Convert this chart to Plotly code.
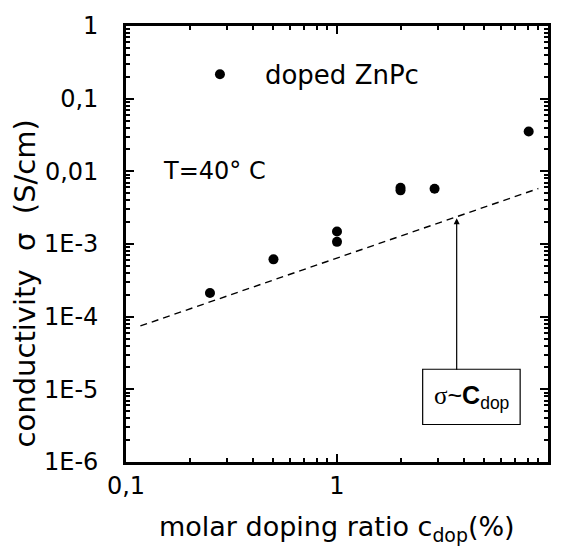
import plotly.graph_objects as go

# data
c_dop = [0.25, 0.5, 1.0, 1.0, 2.0, 2.0, 2.9, 8.1]
sigma = [2.12e-4, 6.15e-4, 1.49e-3, 1.07e-3, 5.95e-3, 5.47e-3, 5.77e-3, 3.53e-2]
fit_x = [0.117, 9.0]
fit_y = [7.45e-5, 5.8e-3]

y_tickvals = [1e-6, 1e-5, 1e-4, 1e-3, 1e-2, 1e-1, 1]
y_ticktext = ["1E-6", "1E-5", "1E-4", "1E-3", "0,01", "0,1", "1"]
x_tickvals = [0.1, 1, 10]
x_ticktext = ["0,1", "1", "10"]
minor_digits = [2, 3, 4, 5, 6, 7, 8, 9]
x_decades = [0.1, 1]
y_decades = [1e-6, 1e-5, 1e-4, 1e-3, 1e-2, 1e-1]

x_minor = [d * m for d in x_decades for m in minor_digits]
y_minor = [d * m for d in y_decades for m in minor_digits]
LABEL_PAD = "\u00a0\u00a0\u2009"

FONT = "DejaVu Sans"

fig = go.Figure()
fig.add_trace(go.Scatter(x=fit_x, y=fit_y, mode="lines",
                         line=dict(color="black", width=1.4, dash="7px,5px"),
                         showlegend=False, hoverinfo="skip"))
fig.add_trace(go.Scatter(x=c_dop, y=sigma, mode="markers", name="doped ZnPc",
                         marker=dict(color="black", size=10)))

axis_common = dict(
    showline=True, linecolor="black", linewidth=2.5, mirror="allticks",
    ticks="inside", ticklen=8, tickwidth=2, tickcolor="black",
    showgrid=False, zeroline=False,
    tickfont=dict(family=FONT, size=24, color="black"),
)

fig.update_xaxes(type="log", range=[-1, 1], tickmode="array",
                 tickvals=x_tickvals, ticktext=x_ticktext,
                 minor=dict(ticks="inside", ticklen=4, tickwidth=1.5,
                            tickcolor="black", tickmode="array",
                            tickvals=x_minor, showgrid=False),
                 **axis_common)
fig.update_yaxes(type="log", range=[-6, 0], tickmode="array",
                 tickvals=y_tickvals,
                 ticktext=[t + LABEL_PAD for t in y_ticktext],
                 minor=dict(ticks="inside", ticklen=4, tickwidth=1.5,
                            tickcolor="black", tickmode="array",
                            tickvals=y_minor, showgrid=False),
                 **axis_common)

annotations = [
    dict(text="conductivity  σ  (S/cm)", xref="paper", yref="paper",
         x=-0.239, y=0.41, textangle=-90, showarrow=False,
         font=dict(family=FONT, size=29, color="black"),
         xanchor="center", yanchor="middle"),
    dict(text="molar doping ratio c<sub>dop</sub>(%)", xref="paper", yref="paper",
         x=0.501, y=-0.108, showarrow=False,
         font=dict(family=FONT, size=27, color="black"),
         xanchor="center", yanchor="top"),
    dict(text="T=40° C", xref="paper", yref="paper", x=0.084, y=0.667,
         showarrow=False, font=dict(family=FONT, size=24, color="black"),
         xanchor="left", yanchor="middle"),
    dict(text='<span style="font-family:Liberation Serif">σ</span>~<b>C</b><sub>dop</sub>',
         xref="paper", yref="paper", x=0.8185, y=0.149, showarrow=False,
         font=dict(family="Liberation Sans", size=25, color="black"),
         xanchor="center", yanchor="middle"),
    dict(text="", xref="paper", yref="paper", x=0.7836, y=0.5588,
         ax=0, ay=153, axref="pixel", ayref="pixel",
         showarrow=True, arrowhead=2, arrowsize=1, arrowwidth=1.2,
         arrowcolor="black", standoff=0, startstandoff=0),
]

shapes = [
    dict(type="rect", xref="paper", yref="paper", x0=0.703, x1=0.934,
         y0=0.086, y1=0.2127, line=dict(color="black", width=1.2)),
]

fig.update_layout(
    width=563, height=554,
    margin=dict(l=126, r=15, t=20, b=92),
    paper_bgcolor="white", plot_bgcolor="white",
    font=dict(family=FONT, color="black"),
    showlegend=True,
    legend=dict(x=0.116, y=0.889, xanchor="left", yanchor="middle",
                bgcolor="rgba(0,0,0,0)", itemwidth=80,
                font=dict(family=FONT, size=26, color="black")),
    annotations=annotations, shapes=shapes,
)

fig.write_html("out.html")
